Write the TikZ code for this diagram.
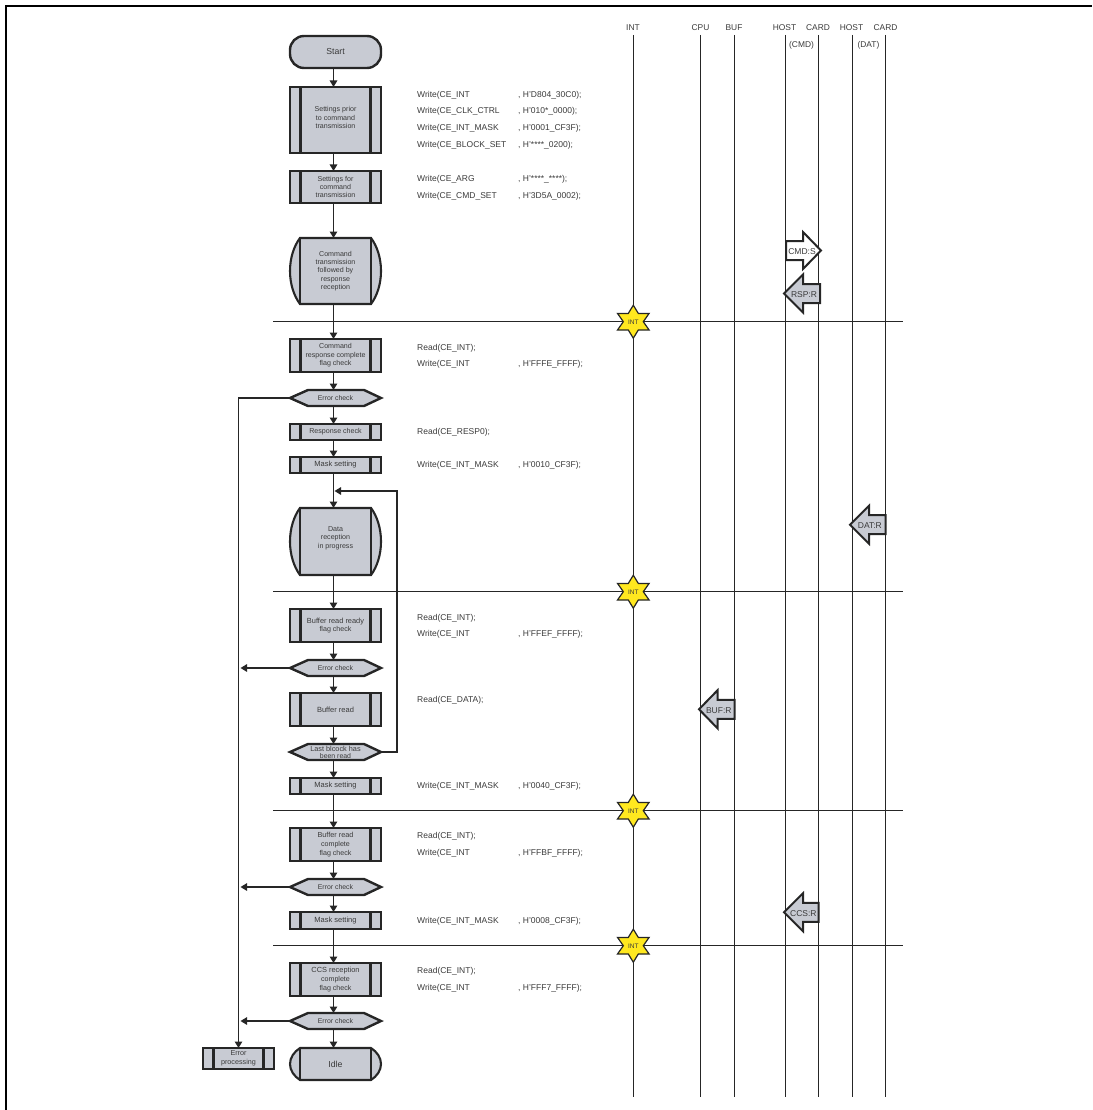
\documentclass[tikz,border=0pt]{standalone}
\usepackage{fontspec}
\setmainfont{Liberation Sans}
\usetikzlibrary{arrows.meta}
\definecolor{boxfill}{HTML}{C8CBD3}
\definecolor{ink}{HTML}{262626}
\definecolor{txt}{HTML}{3A3A3A}
\definecolor{staryellow}{HTML}{FFE81F}
\tikzset{
  shapeline/.style={draw=ink,line width=2.4pt,line join=miter},
  barbox/.style={shapeline,fill=boxfill,rectangle,inner sep=0pt,outer sep=0pt,text=txt,align=center,font=\fontsize{7.1}{8.4}\selectfont,
    path picture={
      \draw[ink,line width=2.6pt] ([xshift=10.2pt]path picture bounding box.north west) -- ([xshift=10.2pt]path picture bounding box.south west);
      \draw[ink,line width=2.6pt] ([xshift=-10.5pt]path picture bounding box.north east) -- ([xshift=-10.5pt]path picture bounding box.south east);
    }},
  termbox/.style={shapeline,fill=boxfill,rectangle,rounded corners=14pt,inner sep=0pt,outer sep=0pt,text=txt,font=\fontsize{8.7}{10}\selectfont},
  plainlabel/.style={rectangle,inner sep=0pt,outer sep=0pt,text=txt,align=center,font=\fontsize{7.1}{8.4}\selectfont},
  codeline/.style={anchor=west,inner sep=0pt,yshift=-1pt,text=txt,font=\fontsize{8.5}{10}\selectfont},
  headlabel/.style={inner sep=0pt,yshift=-1pt,text=txt,font=\fontsize{8.4}{10}\selectfont},
  blocklabel/.style={inner sep=0pt,yshift=-1pt,text=txt,font=\fontsize{8.5}{10}\selectfont},
  flow/.style={draw=ink,line width=1.25pt},
  flowarrow/.style={flow,-{Triangle[length=6.5pt,width=7.5pt]}},
  lane/.style={draw=ink,line width=1pt},
  blockarrow/.style={draw=ink,line width=2pt,line join=miter},
  starshape/.style={draw=ink,line width=1.2pt,fill=staryellow,line join=miter},
}
% barred process box: name, top, bottom, text
\newcommand{\procbox}[4]{\node[barbox,minimum width=91pt,minimum height={#3-#2}] (#1) at (335.5,{(#2+#3)/2}) {#4};}
% hexagonal decision: name, top, bottom, text
\newcommand{\decide}[4]{%
  \draw[shapeline,fill=boxfill] (290,{(#2+#3)/2}) -- (308,#2) -- (364,#2) -- (381,{(#2+#3)/2}) -- (364,#3) -- (308,#3) -- cycle;
  \node[plainlabel,font=\fontsize{6.9}{7.2}\selectfont,minimum width=91pt,minimum height={#3-#2}] (#1) at (335.5,{(#2+#3)/2}) {#4};}
% stored-data shape with bulging sides: name, top, bottom, text
\newcommand{\lens}[4]{%
  \draw[shapeline,fill=boxfill,line width=2.1pt] (300,#2) -- (371,#2)
    .. controls (377,{#2+.12*(#3-#2)}) and (381,{#2+.3*(#3-#2)}) .. (381,{(#2+#3)/2})
    .. controls (381,{#2+.7*(#3-#2)}) and (377,{#2+.88*(#3-#2)}) .. (371,#3) -- (300,#3)
    .. controls (294,{#2+.88*(#3-#2)}) and (290,{#2+.7*(#3-#2)}) .. (290,{(#2+#3)/2})
    .. controls (290,{#2+.3*(#3-#2)}) and (294,{#2+.12*(#3-#2)}) .. (300,#2) -- cycle;
  \draw[ink,line width=2.6pt] (300,#2) -- (300,#3) (371,#2) -- (371,#3);
  \node[plainlabel,minimum width=91pt,minimum height={#3-#2}] (#1) at (335.5,{(#2+#3)/2}) {#4};}
% star: name, y
\newcommand{\intstar}[2]{%
  \draw[starshape,shift={(633.3,#2)}] (0,-16.5) -- (5,-8.3) -- (15.8,-8.3) -- (10,0) -- (15.8,8.3) -- (5,8.3) -- (0,16.5) -- (-5,8.3) -- (-15.8,8.3) -- (-10,0) -- (-15.8,-8.3) -- (-5,-8.3) -- cycle;
  \node[inner sep=0pt,yshift=-0.8pt,text=txt,font=\fontsize{6.5}{7}\selectfont] (#1) at (633.3,#2) {INT};}
% code line: name, y, first part, second part
\newcommand{\code}[4]{\node[codeline] (#1) at (417,#2) {\makebox[101pt][l]{#3}#4};}
% left-pointing block arrow: name, tip x, base x, tail x, y, text
\newcommand{\leftblock}[6]{%
  \draw[blockarrow,fill=boxfill] (#2,#5) -- (#3,{#5-19}) -- (#3,{#5-9.5}) -- (#4,{#5-9.5}) -- (#4,{#5+9.5}) -- (#3,{#5+9.5}) -- (#3,{#5+19}) -- cycle;
  \node[blocklabel] (#1) at ({(#2+#4)/2+2},#5) {#6};}
\begin{document}
\begin{tikzpicture}[x=1pt,y=-1pt]
\useasboundingbox (0,0) rectangle (1092,1110);
% frame
\coordinate (frameA) at (6,1110);
\coordinate (frameB) at (6,6);
\coordinate (frameC) at (1092,6);
\draw[black,line width=2.2pt,line cap=butt,line join=miter] (frameA) -- (frameB) -- (frameC);
% lanes
\foreach \nm/\xx in {a/633.3,b/700.7,c/734.6,d/785,e/818.7,f/852.3,g/885.7}{
  \coordinate (top\nm) at (\xx,35);
  \coordinate (bot\nm) at (\xx,1097);
  \draw[lane] (top\nm) -- (bot\nm);
}
\foreach \nm/\yy in {p/321.7,q/591.7,r/810.7,s/945.7}{
  \coordinate (ls\nm) at (273,\yy);
  \coordinate (le\nm) at (903,\yy);
  \draw[lane] (ls\nm) -- (le\nm);
}
% lane headers
\node[headlabel] (hint) at (633,27) {INT};
\node[headlabel] (hcpu) at (700.5,27) {CPU};
\node[headlabel] (hbuf) at (734,27) {BUF};
\node[headlabel] (hhost) at (784.5,27) {HOST};
\node[headlabel] (hcard) at (818,27) {CARD};
\node[headlabel] (hhostb) at (851.5,27) {HOST};
\node[headlabel] (hcardb) at (885.5,27) {CARD};
\node[headlabel] (hcmd) at (801.5,44.5) {(CMD)};
\node[headlabel] (hdat) at (868.5,44.5) {(DAT)};
% flow nodes
\node[termbox,minimum width=91pt,minimum height=32pt] (start) at (335.5,52) {\raisebox{-2pt}{Start}};
\procbox{sa}{87}{153}{Settings prior\\to command\\transmission\\[-4pt]}
\procbox{sb}{171}{203}{Settings for\\command\\transmission}
\lens{cmd}{238}{304}{Command\\transmission\\followed by\\response\\reception}
\procbox{cr}{339}{372}{Command\\response complete\\flag check}
\decide{ea}{390}{406}{Error check}
\procbox{rc}{424}{440}{Response check}
\procbox{ma}{457}{473}{\fontsize{7.5}{8}\selectfont Mask setting}
\lens{dr}{508}{575}{Data\\reception\\in progress\\[0pt]}
\procbox{brr}{609}{642}{\fontsize{7.4}{8.8}\selectfont Buffer read ready\\flag check}
\decide{eb}{660}{676}{Error check}
\procbox{br}{693}{726}{\fontsize{7.5}{8}\selectfont Buffer read}
\decide{lb}{744}{760}{\fontsize{7.3}{7.3}\selectfont Last blcock has\\been read}
\procbox{mb}{778}{794}{\fontsize{7.5}{8}\selectfont Mask setting}
\procbox{brc}{828}{861}{\fontsize{7.3}{9}\selectfont Buffer read\\[0.7pt]complete\\[0.7pt]flag check}
\decide{ec}{879}{895}{Error check}
\procbox{mc}{912}{929}{\fontsize{7.5}{8}\selectfont Mask setting}
\procbox{ccs}{963}{996}{\fontsize{7.4}{9}\selectfont CCS reception\\[0.7pt]complete\\[0.7pt]flag check}
\decide{ed}{1013}{1029}{Error check}
\lens{idle}{1048}{1080}{\fontsize{8.7}{10}\selectfont\raisebox{-2pt}{Idle}}
\node[barbox,minimum width=71pt,minimum height=21pt,font=\fontsize{7.2}{9}\selectfont] (ep) at (238.5,1058.5) {\\[-5pt]Error\\processing};
% connectors
\coordinate (spine) at (333.5,0);
\coordinate (leftrail) at (240.5,0);
\foreach \from/\to in {start/sa,sa/sb,sb/cmd,cmd/cr,cr/ea,ea/rc,rc/ma,ma/dr,dr/brr,brr/eb,eb/br,br/lb,lb/mb,mb/brc,brc/ec,ec/mc,mc/ccs,ccs/ed,ed/idle}{
  \draw[flowarrow] (\from.south -| spine) -- (\to.north -| spine);
}
\draw[flowarrow] (ea.west) -- (ea.west -| ep.north) -- (ep.north);
\draw[flowarrow] (eb.west) -- (eb.west -| leftrail);
\draw[flowarrow] (ec.west) -- (ec.west -| leftrail);
\draw[flowarrow] (ed.west) -- (ed.west -| leftrail);
\coordinate (fb) at (397,491);
\coordinate (fbend) at (334.5,491);
\draw[flowarrow] (lb.east) -- (lb.east -| fb) -- (fb) -- (fbend);
% stars
\intstar{stara}{321.7}
\intstar{starb}{591.7}
\intstar{starc}{810.7}
\intstar{stard}{945.7}
% register access text
\code{ca}{94}{Write(CE\_INT}{, H'D804\_30C0);}
\code{cb}{110}{Write(CE\_CLK\_CTRL}{, H'010*\_0000);}
\code{cc}{127}{Write(CE\_INT\_MASK}{, H'0001\_CF3F);}
\code{cd}{144}{Write(CE\_BLOCK\_SET}{, H'****\_0200);}
\code{ce}{178}{Write(CE\_ARG}{, H'****\_****);}
\code{cf}{195}{Write(CE\_CMD\_SET}{, H'3D5A\_0002);}
\node[codeline] (cg) at (417,347) {Read(CE\_INT);};
\code{ch}{363.5}{Write(CE\_INT}{, H'FFFE\_FFFF);}
\node[codeline] (ci) at (417,431) {Read(CE\_RESP0);};
\code{cj}{464}{Write(CE\_INT\_MASK}{, H'0010\_CF3F);}
\node[codeline] (ck) at (417,617) {Read(CE\_INT);};
\code{cl}{633}{Write(CE\_INT}{, H'FFEF\_FFFF);}
\node[codeline] (cm) at (417,699) {Read(CE\_DATA);};
\code{cn}{785}{Write(CE\_INT\_MASK}{, H'0040\_CF3F);}
\node[codeline] (co) at (417,835) {Read(CE\_INT);};
\code{cp}{852}{Write(CE\_INT}{, H'FFBF\_FFFF);}
\code{cq}{920}{Write(CE\_INT\_MASK}{, H'0008\_CF3F);}
\node[codeline] (cr2) at (417,970) {Read(CE\_INT);};
\code{cs}{987}{Write(CE\_INT}{, H'FFF7\_FFFF);}
% block arrows
\draw[blockarrow,fill=white] (786,241) -- (803,241) -- (803,232) -- (821,250.5) -- (803,269) -- (803,260) -- (786,260) -- cycle;
\node[blocklabel] (cmds) at (802,251) {CMD:S};
\leftblock{rsp}{784}{803}{820}{293.5}{RSP:R}
\leftblock{dat}{850}{869}{885.7}{524.7}{DAT:R}
\leftblock{buf}{699}{717.5}{734.6}{709.3}{BUF:R}
\leftblock{ccsr}{784}{803}{818.7}{912.3}{CCS:R}
\end{tikzpicture}
\end{document}
